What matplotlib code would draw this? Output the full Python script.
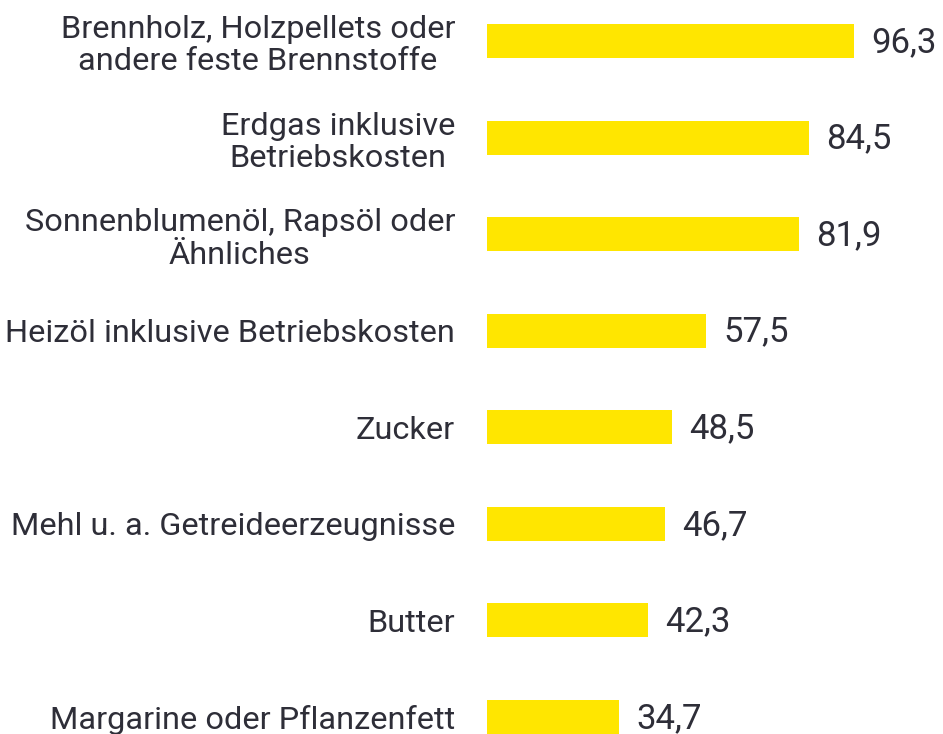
import matplotlib.pyplot as plt

categories = [
    'Brennholz, Holzpellets oder\nandere feste Brennstoffe',
    'Erdgas inklusive\nBetriebskosten',
    'Sonnenblumenöl, Rapsöl oder\nÄhnliches',
    'Heizöl inklusive Betriebskosten',
    'Zucker',
    'Mehl u. a. Getreideerzeugnisse',
    'Butter',
    'Margarine oder Pflanzenfett',
]
values = [96.3, 84.5, 81.9, 57.5, 48.5, 46.7, 42.3, 34.7]

text_color = '#2e2e38'
bar_color = '#ffe600'

plt.rcParams['font.family'] = ['Roboto', 'DejaVu Sans']

fig = plt.figure(figsize=(9.43, 7.34), dpi=100)
ax = fig.add_axes([487 / 943, 0, 456 / 943, 1])

pos = list(range(len(values)))
ax.barh(pos, values, height=0.352, color=bar_color)

for y, v in zip(pos, values):
    ax.annotate(f'{v:.1f}'.replace('.', ','), (v, y), xytext=(12, -1),
                textcoords='offset points', va='center', ha='left',
                fontsize=25, color=text_color)

ax.set_yticks(pos)
ax.set_yticklabels(categories, fontsize=23.4, color=text_color,
                   multialignment='center', linespacing=1.15)
ax.tick_params(axis='y', length=0, pad=23)
ax.set_xticks([])
ax.set_xlim(0, 456 / 3.815)
ax.set_ylim(7.176, -0.4246)
for s in ax.spines.values():
    s.set_visible(False)

fig.savefig('out.png', dpi=100)
